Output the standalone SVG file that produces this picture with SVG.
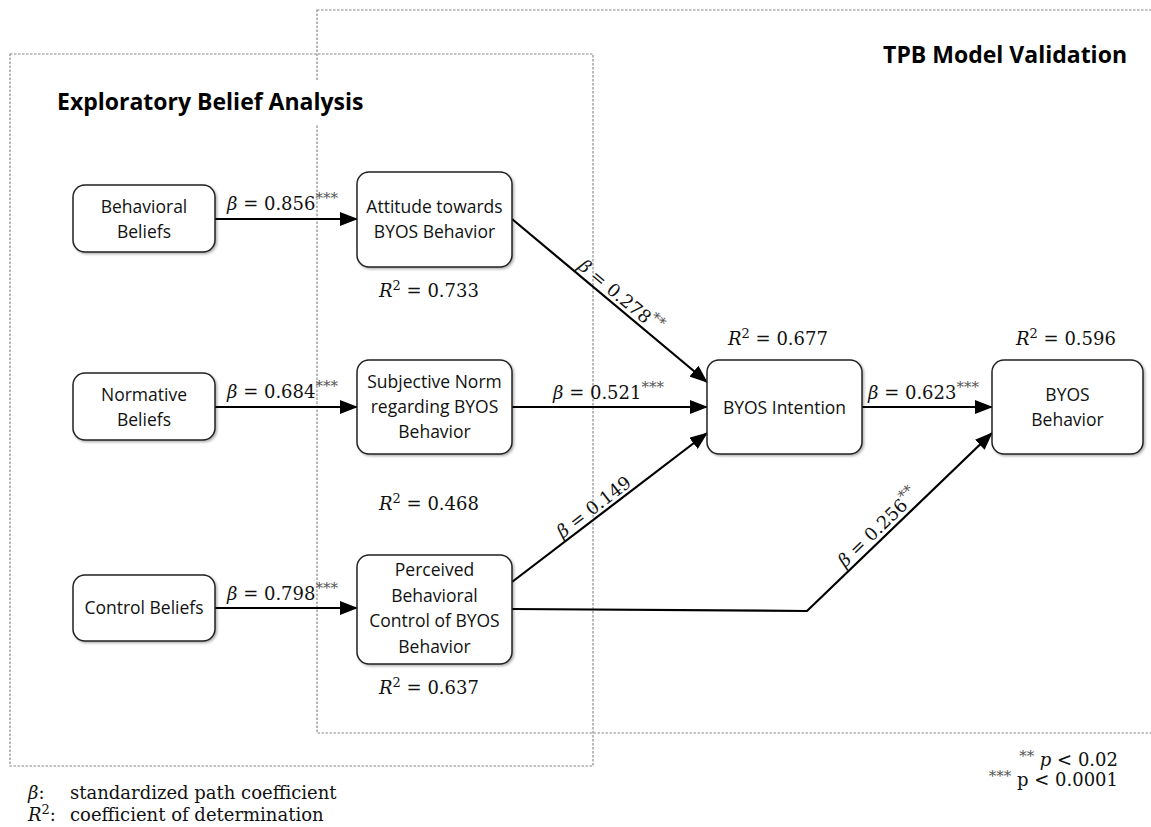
<svg xmlns="http://www.w3.org/2000/svg" width="1151" height="827" viewBox="0 0 1151 827">
<style>
.frame{fill:none;stroke:#8a8a8a;stroke-width:1.2;stroke-dasharray:2.5 1.5}
.title{font-family:"Open Sans","Liberation Sans",sans-serif;font-weight:bold;font-size:23px;fill:#000}
.node rect{fill:#fff;stroke:#222;stroke-width:1.5}
.nt{font-family:"Open Sans","Liberation Sans",sans-serif;font-size:17.5px;fill:#111;text-anchor:middle}
.m{font-family:"DejaVu Serif","Liberation Serif",serif;font-size:18px;fill:#111}
.lg{font-family:"DejaVu Serif","Liberation Serif",serif;font-size:18px;fill:#111}
.it{font-style:italic}
.sup{font-size:15px;fill:#555}
.sup2{font-size:13px}
.edge{fill:none;stroke:#000;stroke-width:2.2}
</style>
<defs>
<marker id="arr" markerUnits="userSpaceOnUse" markerWidth="18" markerHeight="14" refX="17" refY="7" orient="auto">
<path d="M0,0 L18,7 L0,14 z" fill="#000"/>
</marker>
<filter id="sh" x="-10%" y="-10%" width="130%" height="130%">
<feDropShadow dx="1.5" dy="1.5" stdDeviation="1" flood-color="#000" flood-opacity="0.3"/>
</filter>
</defs>
<rect width="1151" height="827" fill="#fff"/>

<g id="frames">
<rect class="frame" x="317" y="10" width="840" height="723"/>
<rect class="frame" x="10" y="54" width="583" height="712"/>
<rect x="52" y="80" width="316" height="44" fill="#fff"/>
<text class="title" x="57" y="110">Exploratory Belief Analysis</text>
<text class="title" x="1127" y="63" text-anchor="end">TPB Model Validation</text>
</g>

<g id="connectors">
<path class="edge" d="M215,219 L357,219" marker-end="url(#arr)"/>
<path class="edge" d="M215,407 L357,407" marker-end="url(#arr)"/>
<path class="edge" d="M215,608 L357,608" marker-end="url(#arr)"/>
<path class="edge" d="M512,219 L707,382" marker-end="url(#arr)"/>
<path class="edge" d="M512,407 L707,407" marker-end="url(#arr)"/>
<path class="edge" d="M512,582 L707,433" marker-end="url(#arr)"/>
<path class="edge" d="M512,609 L807,611 L992,433" marker-end="url(#arr)"/>
<path class="edge" d="M862,407 L992,407" marker-end="url(#arr)"/>

<text class="m" x="227" y="210"><tspan class="it">β</tspan> = 0.856<tspan class="sup" dy="-7">***</tspan></text>
<text class="m" x="227" y="398"><tspan class="it">β</tspan> = 0.684<tspan class="sup" dy="-7">***</tspan></text>
<text class="m" x="227" y="600"><tspan class="it">β</tspan> = 0.798<tspan class="sup" dy="-7">***</tspan></text>
<text class="m" x="553" y="399"><tspan class="it">β</tspan> = 0.521<tspan class="sup" dy="-7">***</tspan></text>
<text class="m" x="868" y="399"><tspan class="it">β</tspan> = 0.623<tspan class="sup" dy="-7">***</tspan></text>
<text class="m" text-anchor="middle" transform="translate(614,304) rotate(39.9)" y="-4"><tspan class="it">β</tspan> = 0.278<tspan class="sup" dy="-7">**</tspan></text>
<text class="m" text-anchor="middle" transform="translate(600,515) rotate(-37.4)" y="-4"><tspan class="it">β</tspan> = 0.149</text>
<text class="m" text-anchor="middle" transform="translate(885,535) rotate(-43.9)" y="-4"><tspan class="it">β</tspan> = 0.256<tspan class="sup" dy="-7">**</tspan></text>
</g>

<g id="n-behavioral-beliefs" class="node">
<rect x="73" y="185" width="142" height="67" rx="12" filter="url(#sh)"/>
<text class="nt" x="144" y="213">Behavioral</text>
<text class="nt" x="144" y="238">Beliefs</text>
</g>
<g id="n-normative-beliefs" class="node">
<rect x="73" y="373" width="142" height="67" rx="12" filter="url(#sh)"/>
<text class="nt" x="144" y="401">Normative</text>
<text class="nt" x="144" y="426">Beliefs</text>
</g>
<g id="n-control-beliefs" class="node">
<rect x="73" y="575" width="142" height="66" rx="12" filter="url(#sh)"/>
<text class="nt" x="144" y="614">Control Beliefs</text>
</g>
<g id="n-attitude" class="node">
<rect x="357" y="172" width="155" height="95" rx="12" filter="url(#sh)"/>
<text class="nt" x="434.5" y="213">Attitude towards</text>
<text class="nt" x="434.5" y="238">BYOS Behavior</text>
<text class="m" x="429" y="297" text-anchor="middle"><tspan class="it">R</tspan><tspan class="sup2" dy="-7">2</tspan><tspan dy="7"> = 0.733</tspan></text>
</g>
<g id="n-subjective-norm" class="node">
<rect x="357" y="360" width="155" height="94" rx="12" filter="url(#sh)"/>
<text class="nt" x="434.5" y="388">Subjective Norm</text>
<text class="nt" x="434.5" y="413">regarding BYOS</text>
<text class="nt" x="434.5" y="438">Behavior</text>
<text class="m" x="429" y="510" text-anchor="middle"><tspan class="it">R</tspan><tspan class="sup2" dy="-7">2</tspan><tspan dy="7"> = 0.468</tspan></text>
</g>
<g id="n-pbc" class="node">
<rect x="357" y="555" width="155" height="109" rx="12" filter="url(#sh)"/>
<text class="nt" x="434.5" y="576">Perceived</text>
<text class="nt" x="434.5" y="601.5">Behavioral</text>
<text class="nt" x="434.5" y="627">Control of BYOS</text>
<text class="nt" x="434.5" y="652.5">Behavior</text>
<text class="m" x="429" y="694" text-anchor="middle"><tspan class="it">R</tspan><tspan class="sup2" dy="-7">2</tspan><tspan dy="7"> = 0.637</tspan></text>
</g>
<g id="n-intention" class="node">
<rect x="707" y="360" width="155" height="94" rx="12" filter="url(#sh)"/>
<text class="nt" x="784.5" y="414">BYOS Intention</text>
<text class="m" x="778" y="345" text-anchor="middle"><tspan class="it">R</tspan><tspan class="sup2" dy="-7">2</tspan><tspan dy="7"> = 0.677</tspan></text>
</g>
<g id="n-behavior" class="node">
<rect x="992" y="360" width="151" height="94" rx="12" filter="url(#sh)"/>
<text class="nt" x="1067.5" y="401">BYOS</text>
<text class="nt" x="1067.5" y="426">Behavior</text>
<text class="m" x="1066" y="345" text-anchor="middle"><tspan class="it">R</tspan><tspan class="sup2" dy="-7">2</tspan><tspan dy="7"> = 0.596</tspan></text>
</g>

<g id="legend">
<text class="lg" x="28" y="799"><tspan class="it">β</tspan>:</text>
<text class="lg" x="70" y="799">standardized path coefficient</text>
<text class="lg" x="28" y="821"><tspan class="it">R</tspan><tspan class="sup2" dy="-7">2</tspan><tspan dy="7">:</tspan></text>
<text class="lg" x="70" y="821">coefficient of determination</text>
<text class="lg" x="1118" y="766" text-anchor="end"><tspan class="sup" dy="-5">**</tspan><tspan dy="5"> </tspan><tspan class="it">p</tspan> &lt; 0.02</text>
<text class="lg" x="1118" y="786" text-anchor="end"><tspan class="sup" dy="-5">***</tspan><tspan dy="5"> p &lt; 0.0001</tspan></text>
</g>
</svg>
